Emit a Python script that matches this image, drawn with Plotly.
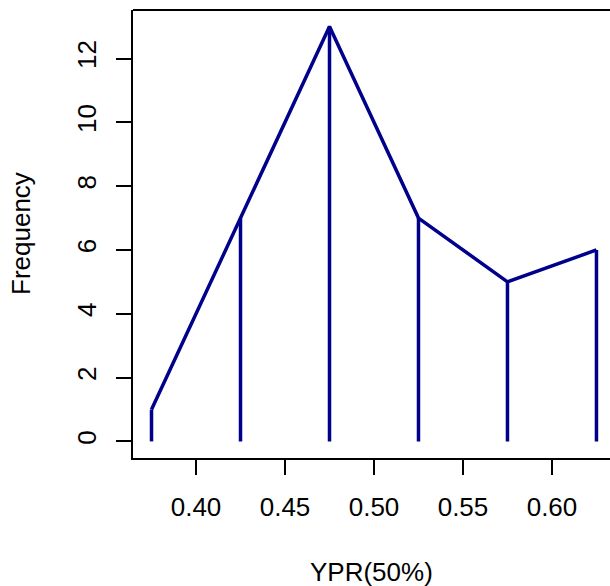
import plotly.graph_objects as go

# Data
midpoints = [0.375, 0.425, 0.475, 0.525, 0.575, 0.625]
frequency = [1, 7, 13, 7, 5, 6]
x_ticks = [0.40, 0.45, 0.50, 0.55, 0.60]
x_tick_labels = ["0.40", "0.45", "0.50", "0.55", "0.60"]
y_ticks = [0, 2, 4, 6, 8, 10, 12]
y_tick_labels = ["0", "2", "4", "6", "8", "10", "12"]
x_title = "YPR(50%)"
y_title = "Frequency"

LINE = "#00008B"
FONT = dict(family="Liberation Sans, Arial, Helvetica, sans-serif", size=26, color="black")

# vertical "h" lines
vx, vy = [], []
for xv, yv in zip(midpoints, frequency):
    vx += [xv, xv, None]
    vy += [0, yv, None]

fig = go.Figure()
fig.add_trace(go.Scatter(x=vx, y=vy, mode="lines",
                         line=dict(color=LINE, width=3.5), hoverinfo="skip"))
fig.add_trace(go.Scatter(x=midpoints, y=frequency, mode="lines",
                         line=dict(color=LINE, width=3.5)))

fig.update_layout(
    width=610, height=586,
    margin=dict(l=133, r=0, t=10, b=128),
    paper_bgcolor="white", plot_bgcolor="white",
    showlegend=False, font=FONT,
    xaxis=dict(range=[0.3646, 0.6326], tickvals=x_ticks, ticktext=x_tick_labels,
               ticks="outside", ticklen=15, tickwidth=1.8, tickcolor="black",
               showline=True, linecolor="black", linewidth=1.8, mirror=False,
               showgrid=False, zeroline=False, ticklabelstandoff=10),
    yaxis=dict(range=[-0.52, 13.52], tickvals=y_ticks, ticktext=y_tick_labels,
               ticks="outside", ticklen=15, tickwidth=1.8, tickcolor="black",
               showline=True, linecolor="black", linewidth=1.8, mirror=False,
               showgrid=False, zeroline=False, tickangle=-90, ticklabelstandoff=10),
    shapes=[dict(type="line", xref="paper", yref="paper", x0=0, x1=1, y0=1, y1=1,
                 line=dict(color="black", width=1.8))],
    annotations=[
        dict(text=x_title, xref="paper", yref="paper", x=0.5, y=0, yshift=-114,
             xanchor="center", yanchor="middle", showarrow=False, font=FONT),
        dict(text=y_title, xref="paper", yref="paper", x=0, y=0.5, xshift=-112,
             xanchor="center", yanchor="middle", textangle=-90, showarrow=False, font=FONT),
    ],
)

fig.write_html(
    "out.html",
    config={"displayModeBar": False},
    post_script="document.body.style.margin='0';"
                "document.body.style.overflow='hidden';"
                "document.documentElement.style.overflow='hidden';",
)
